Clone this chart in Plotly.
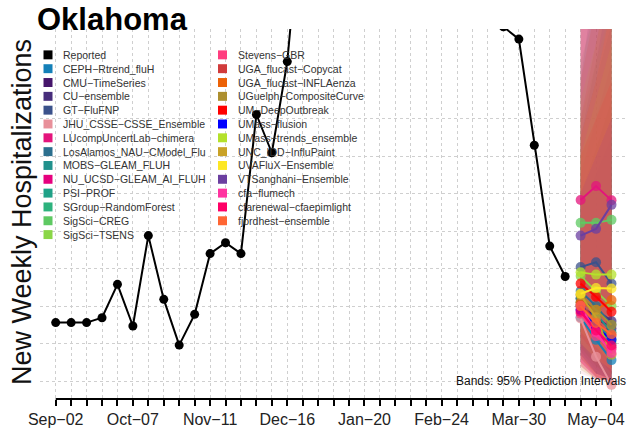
import plotly.graph_objects as go

# ── Data (values in gridline units; one gridline step = 1) ─────────────────────
TICK_WEEKS = list(range(37))
TICK_LABELS = {0: "Sep−02", 5: "Oct−07", 10: "Nov−11", 15: "Dec−16",
               20: "Jan−20", 25: "Feb−24", 30: "Mar−30", 35: "May−04"}

REPORTED_WEEKS = list(range(34))
REPORTED_VALUES = [1.56, 1.56, 1.56, 1.69, 2.58, 1.47, 3.88, 2.18, 0.96, 1.78,
                   3.40, 3.69, 3.40, 7.11, 6.09, 8.52, 14.0, 17.5, 21.0, 22.5,
                   20.0, 17.5, 15.5, 14.0, 13.2, 12.5, 11.6, 10.9, 10.2, 9.45,
                   9.12, 6.29, 3.60, 2.79]

FC_WEEKS = [34, 35, 36]

MODELS = [
    "CEPH−Rtrend_fluH", "CMU−TimeSeries", "CU−ensemble", "GT−FluFNP",
    "JHU_CSSE−CSSE_Ensemble", "LUcompUncertLab−chimera", "LosAlamos_NAU−CModel_Flu",
    "MOBS−GLEAM_FLUH", "NU_UCSD−GLEAM_AI_FLUH", "PSI−PROF", "SGroup−RandomForest",
    "SigSci−CREG", "SigSci−TSENS", "Stevens−GBR", "UGA_flucast−Copycat",
    "UGA_flucast−INFLAenza", "UGuelph−CompositeCurve", "UM−DeepOutbreak",
    "UMass−flusion", "UMass−trends_ensemble", "UNC_IDD−InfluPaint",
    "UVAFluX−Ensemble", "VTSanghani−Ensemble", "cfa−flumech",
    "cfarenewal−cfaepimlight", "fjordhest−ensemble",
]
MODEL_COLORS = [
    "#1480b8", "#46166b", "#472d7b", "#3b528b", "#e8909a", "#e4147c", "#2c6f8e",
    "#21918c", "#e6007e", "#1fa187", "#2db27d", "#5ec962", "#8ad647", "#ff3d7f",
    "#d13b3b", "#ec6207", "#ad8f2f", "#ff0000", "#0000ff", "#b4e12b", "#c9a227",
    "#fde725", "#6b3fa0", "#ff33a0", "#ff0066", "#ff6633",
]
FC_MEDIAN = [
    [1.70, 1.10, 0.56], [2.00, 1.70, 1.40], [2.20, 1.90, 1.60], [3.04, 3.17, 2.60],
    [1.67, 0.65, -0.10], [4.83, 5.20, 4.82], [2.40, 2.00, 1.50], [2.20, 1.80, 1.30],
    [1.90, 1.30, 0.90], [2.00, 1.60, 1.10], [2.10, 1.50, 1.00], [4.22, 4.22, 4.30],
    [2.80, 2.40, 2.00], [1.80, 1.20, 0.85], [2.05, 1.60, 1.20], [2.10, 1.90, 2.16],
    [2.30, 1.90, 1.50], [2.60, 2.25, 1.85], [1.90, 1.45, 1.10], [2.90, 2.84, 2.84],
    [2.30, 1.70, 0.70], [2.33, 2.48, 2.47], [3.88, 4.06, 4.70], [2.00, 1.30, 0.75],
    [1.85, 1.35, 0.95], [2.00, 1.55, 1.25],
]
FC_LOWER = [
    [0.60, 0.20, 0.05], [0.90, 0.40, 0.10], [0.80, 0.30, 0.05], [1.20, 0.80, 0.30],
    [0.20, 0.05, 0.00], [1.50, 0.90, 0.40], [0.70, 0.20, 0.05], [0.90, 0.40, 0.10],
    [0.50, 0.10, 0.05], [0.80, 0.20, 0.05], [0.60, 0.10, 0.00], [2.00, 1.50, 1.20],
    [1.00, 0.50, 0.10], [0.50, 0.10, 0.00], [0.40, 0.05, 0.00], [0.60, 0.20, 0.05],
    [0.90, 0.40, 0.10], [1.20, 0.70, 0.20], [0.70, 0.20, 0.05], [1.30, 0.90, 0.50],
    [0.30, 0.05, 0.00], [1.00, 0.60, 0.30], [1.80, 1.20, 1.00], [0.50, 0.10, 0.00],
    [0.40, 0.05, 0.00], [0.70, 0.10, 0.05],
]
FC_UPPER = [
    [4.5, 5.5, 6.5], [5.0, 6.2, 7.5], [6.5, 8.5, 10.8], [8.0, 11.0, 14.0],
    [5.0, 6.5, 8.0], [10.5, 13.5, 17.0], [6.5, 8.0, 9.5], [6.0, 7.5, 9.0],
    [5.5, 7.0, 8.5], [5.0, 6.0, 7.0], [6.0, 7.5, 9.0], [8.5, 10.0, 12.0],
    [7.0, 8.5, 10.0], [5.0, 6.0, 7.0], [7.0, 9.0, 11.0], [8.0, 10.0, 12.5],
    [9.5, 12.5, 15.0], [6.0, 7.0, 8.0], [5.0, 6.0, 7.0], [7.5, 9.0, 11.0],
    [10.0, 13.0, 16.0], [6.0, 7.5, 9.0], [12.0, 16.0, 20.0], [11.0, 15.0, 19.0],
    [13.0, 17.0, 22.0], [6.5, 8.0, 10.0],
]

FONT = "Liberation Sans"

# ── Geometry (screen pixels; body margin is removed in the page) ──────────────
W, H = 629, 431
L, R, T, B = 40, 626, 29, 401


def px_x(p):
    return (p - L) / (R - L)


def px_y(p):
    return (B - p) / (B - T)


def rgba(hex_color, a):
    h = hex_color.lstrip("#")
    return f"rgba({int(h[0:2], 16)},{int(h[2:4], 16)},{int(h[4:6], 16)},{a})"


fig = go.Figure()

# Prediction bands
for name, col, lo, up in zip(MODELS, MODEL_COLORS, FC_LOWER, FC_UPPER):
    fig.add_scatter(
        x=FC_WEEKS + FC_WEEKS[::-1],
        y=up + lo[::-1],
        fill="toself",
        fillcolor=rgba(col, 0.16),
        line=dict(width=0),
        mode="lines",
        hoverinfo="skip",
        showlegend=False,
    )

# Reported
fig.add_scatter(
    x=REPORTED_WEEKS,
    y=REPORTED_VALUES,
    mode="lines+markers",
    line=dict(color="black", width=2),
    marker=dict(color="black", size=9),
    name="Reported",
    showlegend=False,
)

# Model medians
for name, col, med in zip(MODELS, MODEL_COLORS, FC_MEDIAN):
    fig.add_scatter(
        x=FC_WEEKS,
        y=med,
        mode="lines+markers",
        line=dict(color=col, width=2),
        marker=dict(color=col, size=10, opacity=0.75),
        name=name,
        showlegend=False,
    )

# ── Manual two-column legend ──────────────────────────────────────────────────
legend_names = ["Reported"] + MODELS
legend_cols = ["#000000"] + MODEL_COLORS
shapes = []
annotations = []
for i, (nm, col) in enumerate(zip(legend_names, legend_cols)):
    row = i if i < 14 else i - 14
    sx, tx = (48, 61) if i < 14 else (222.5, 236)
    cy = 55 + 13.9 * row
    shapes.append(dict(
        type="rect", xref="paper", yref="paper",
        x0=px_x(sx - 4.5), x1=px_x(sx + 4.5),
        y0=px_y(cy + 4.5), y1=px_y(cy - 4.5),
        fillcolor=col, line=dict(width=0),
    ))
    annotations.append(dict(
        text=nm, xref="paper", yref="paper", x=px_x(tx), y=px_y(cy),
        xanchor="left", yanchor="middle", showarrow=False,
        font=dict(family=FONT, size=10.5, color="#333333"),
    ))

# x axis line (first to last tick only)
shapes.append(dict(
    type="line", xref="x", yref="paper", x0=0, x1=36, y0=0, y1=0,
    line=dict(color="black", width=2),
))

annotations += [
    dict(text="<b>Oklahoma</b>", xref="paper", yref="paper",
         x=px_x(35), y=px_y(0), xanchor="left", yanchor="top",
         showarrow=False, font=dict(family=FONT, size=31, color="black")),
    dict(text="New Weekly Hospitalizations", xref="paper", yref="paper",
         x=px_x(22), y=px_y(213), xanchor="center", yanchor="middle",
         textangle=-90, showarrow=False,
         font=dict(family=FONT, size=27, color="#111111")),
    dict(text="Bands: 95% Prediction Intervals", xref="paper", yref="paper",
         x=px_x(628), y=px_y(383), xanchor="right", yanchor="middle",
         showarrow=False, font=dict(family=FONT, size=12, color="#111111")),
]

fig.update_layout(
    width=W,
    height=H,
    margin=dict(l=L, r=W - R, t=T, b=H - B, pad=0),
    paper_bgcolor="white",
    plot_bgcolor="white",
    showlegend=False,
    shapes=shapes,
    annotations=annotations,
    xaxis=dict(
        range=[-1.017, 36.94],
        tickvals=TICK_WEEKS,
        ticktext=[TICK_LABELS.get(w, "") for w in TICK_WEEKS],
        ticks="outside", ticklen=6, tickwidth=1.5, tickcolor="black",
        showline=False, zeroline=False,
        showgrid=True, gridcolor="#cfcfcf", griddash="dot", gridwidth=1,
        tickfont=dict(family=FONT, size=16, color="#222222"),
    ),
    yaxis=dict(
        range=[-0.477, 9.39],
        tickvals=list(range(8)),
        showticklabels=False, ticks="",
        showline=False, zeroline=False,
        showgrid=True, gridcolor="#cfcfcf", griddash="dot", gridwidth=1,
    ),
)

fig.write_html(
    "out.html",
    config={"displayModeBar": False},
    post_script="document.body.style.margin='0';document.body.style.overflow='hidden';",
)
